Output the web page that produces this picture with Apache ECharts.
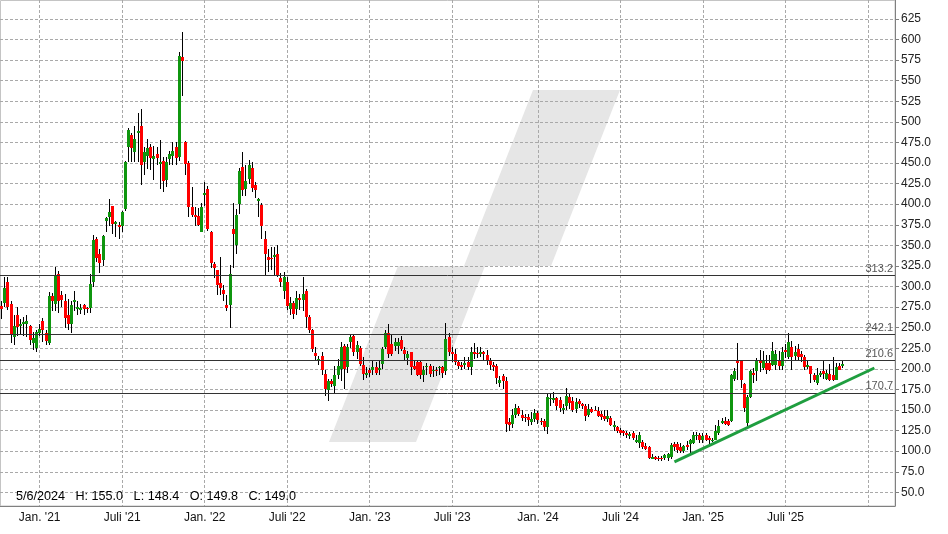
<!DOCTYPE html>
<html><head><meta charset="utf-8">
<script src="https://cdn.jsdelivr.net/npm/echarts@6/dist/echarts.min.js"></script>
<style>html,body{margin:0;padding:0;background:#fff}#c{width:948px;height:534px}</style>
</head><body><div id="c"></div>
<script>
// ---- data (weekly candles) ----
const firstWeek = '2020-10-05';
const weekCount = 282;
const open = [
276,280,305,279,239,265,252,255,254,252,
231,225,244,258,243,231,288,279,315,290,
282,265,254,281,273,272,277,274.5,274,306,
358,339,332,380,385,398,376,375,373,394,
469,484,463,486,495,451,459,469,455,461,
449,452,429,455,459,469,457,579,475,450,
397,387,386,366,411,419,366,327,320,304,
296,277,277,370,351,400,445,419,431,444,
423,404,399,358,336,335,336,339,310,294,
306,273,280,273,286,284,295,263,247,219,
210,215,194,174,185,179,192,200,228,202,
232,240,221,225,205,192,198,198,202,198,
206,227,243,230,228,228,235,223,213,220,
203,208,208,192,202,203,197,199,201,202,
197,239,220,218,208,205,205,208,202,221,
219.5,218,220,217,210,205,204,183,191,185,
135,133,144,153,144,141,141,136,139,146,
137,137,129,164,162,164,162,150,155,166,
161,151,161,157,155,144,151,149.8,149,145,
143,139,140,129,129,126,125,122,119,122,
111,110,111,106,105,91,93,92,92,92,
92,93,109,109,105,100,108,109,110,118,
120,114,120,116,112,114,122,134,137,137,
137,188,209,209,181,134,166,195,197,209,
201,207,207,205,205,209,203,223,214,226,
216,224,218,214,202,203,193,183,193,197,
188,194,193,187,203,203];
const close = [
273,298,275,242,252,251,255,257,258,235,
237,245,248,247,234,288,283,313,283,284,
262,254,277,284,275,274,273,274,303,357,
335,329,361,383,391,376,378,372,391,451,
490,468,479,489,448,463,468,456,459,456,
451,428,451,461,465,456,580,574,449,396,
387,384,375,396,414,370,329,322,302,298,
291,274,315,364,387,440,417,428,448,420,
417,406,373,340,332,333,338,314,306,311,
276,280,267,286,284,291,263,247,224,215,
212,198,175,185,182,193,204,227,200,227,
239,221,229,206,194,195,195,202,195,201,
224,243,218,218,233,233,224,218,218,202,
200,193,192,199,204,194,199,197,202,195,
236,221,218,208,204,202,207,202,221,218,
219,220,218,211,205,202,189,186,185,133,
132,144,153,145,140,140,138,139,146,138,
135,129,166,165,165,155,153,153,167,159,
150,160,157,155,143,151,148,149.0,143,141,
139,143,132,132,125,122,122,120,121,116,
114,120,105,103,92,93,90,90,90,95,
96,108,105,101,100,106,105,114,120,120,
113,119,114,113,114,125,130,137,133,132,
193,197,207,187,152,166,197,193,209,207,
209,198,199,222,218,203,220,220,232,214,
220,214,214,202,205,194,186,192,195,194,
195,186,187,202,199,206];
const low = [
261,275,272,231,229,240,241,240,239,229,
223,221,240,233,229,229,270,270,268,275,
250,247,243,270,265,267,266,268,268,300,
330,316,325,366,374,364,360,358,366,392,
451,451,451,451,423,435,443,441,429,447,
419,415,421,448,447,448,452,532,435,384,
384,374,373,366,398,368,323,310,290,290,
283,270,250,322,340,388,410,410,425,415,
408,384,358,314,318,320,314,312,300,285,
271,265,260,265,271,270,250,244,221,210,
205,193,167,161,178,171,188,185,175,195,
225,216,212,204,187,189,190,193,193,193,
200,224,213,216,222,218,222,210,205,193,
198,191,188,184,193,190,190,191,193,189,
192,216,208,205,200,199,200,199,192,212,
213,214,210,205,198,197,181,178,175,123,
125,128,140,143,137,135,131,132,135,133,
132,124,121,155,158,150,147,145,150,151,
148,146,152,151,137,142,146,148.4,141,138,
137,135,130,125,122,120,118,116,115,113,
110,104,103,102,91,90,89,88,88,89,
88,90,100,98,98,98,102,98,109,114,
110,110,112,109,111,113,120,133,132,131,
136,185,187,177,147,130,165,183,185,196,
198,194,197,203,199,199,199,213,212,199,
210,210,208,199,200,183,184,180,190,188,
186,185,185,186,198,201];
const high = [
282,311,312,283,265,275,261,263,265,253,
245,247,255,262,247,293,292,324,319,295,
291,285,283,294,283,279,279,275,315,362,
360,346,362,384,406,398,380,378,392,453,
492,487,495,511,516,469,479,473,471,469,
478,457,457,465,475,475,585,609,477,453,
421,396,395,401,427,422,368,330,320,336,
302,290,326,402,394,444,463,447,454,451,
427,408,402,368,346,348,348,350,316,318,
312,287,283,295,291,312,297,265,248,226,
216,220,198,188,188,204,212,232,230,230,
241,242,234,228,214,202,201,210,208,210,
226,247,254,242,238,238,240,226,222,221,
210,210,210,203,207,206,203,202,204,204,
256,244,226,224,211,208,214,214,226,231,
226,226,222,223,213,208,206,191,194,190,
140,151,157,155,150,145,145,147,151,149,
140,139,171,171,172,166,166,157,177,171,
166,164,163,159,157,157,154,155,154,149,
150,150,143,137,131,128,126,124,123,124,
120,123,114,110,106,96,94,94,94,97,
98,110,111,111,110,108,112,115,123,123,
122,122,122,118,116,132,138,140,142,139,
194,201,231,210,183,168,199,201,213,223,
222,217,217,232,223,222,226,230,244,234,
228,230,222,217,210,204,195,201,197,209,
199,206,214,207,207,210];
const levels = [313.2, 242.1, 210.6, 170.7];
const trendLine = [[212, 87], [275, 201]];
const yTicks = [50,75,100,125,150,175,200,225,250,275,300,325,350,375,400,425,450,475,500,525,550,575,600,625];
const infoIndex = 187;

// ---- derived ----
const DAY = 864e5;
const t0 = Date.parse(firstWeek + 'T00:00:00Z');
const weeks = [];
for (let i = 0; i < weekCount; i++) weeks.push(new Date(t0 + i * 7 * DAY).toISOString().slice(0, 10));
const lastIndex = open.length - 1;

function halfYear(ws) {
  const t = Date.parse(ws + 'T00:00:00Z');
  for (let k = 0; k < 7; k++) {
    const d = new Date(t + k * DAY);
    if (d.getUTCDate() === 1 && (d.getUTCMonth() === 0 || d.getUTCMonth() === 6)) return { m: d.getUTCMonth(), y: d.getUTCFullYear() };
  }
  return null;
}
const candles = open.map((o, i) => [i, o, close[i], low[i], high[i]]);

function fmtDate(ws) { const d = new Date(ws + 'T00:00:00Z'); return (d.getUTCMonth() + 1) + '/' + d.getUTCDate() + '/' + d.getUTCFullYear(); }
const SEP = '   ';
const infoText = fmtDate(weeks[infoIndex]) + SEP + 'H: ' + high[infoIndex].toFixed(1) + SEP + 'L: ' + low[infoIndex].toFixed(1) +
  SEP + 'O: ' + open[infoIndex].toFixed(1) + SEP + 'C: ' + close[infoIndex].toFixed(1);

const FONT = 'Liberation Sans, Arial, sans-serif';
const GRIDLINE = { color: '#a9a9a9', width: 1, type: [3, 2] };
const watermark = [[329,442],[398,266],[464,266],[533,90],[620,90],[551,266],[485,266],[416,442]];

function renderCandle(params, api) {
  const i = api.value(0), o = api.value(1), c = api.value(2), l = api.value(3), h = api.value(4);
  const pO = api.coord([i, o]), pC = api.coord([i, c]), pL = api.coord([i, l]), pH = api.coord([i, h]);
  const cx = Math.round(pO[0] - 0.5) + 0.5;
  let top = Math.round(Math.min(pO[1], pC[1])), bot = Math.round(Math.max(pO[1], pC[1]));
  if (bot - top < 1) bot = top + 1;
  const up = c > o;
  return { type: 'group', children: [
    { type: 'line', shape: { x1: cx, y1: Math.round(pH[1]), x2: cx, y2: Math.round(pL[1]) }, style: { stroke: '#000', lineWidth: 1 } },
    { type: 'rect', shape: { x: cx - 1.5, y: top, width: 3, height: bot - top }, style: { fill: c === o ? '#000' : (up ? '#0f960f' : '#ff0000') } }
  ]};
}

const chart = echarts.init(document.getElementById('c'), null, { renderer: 'canvas' });
chart.setOption({
  animation: false,
  backgroundColor: '#fff',
  title: { text: infoText, left: 16, top: 490, padding: 0, textStyle: { fontSize: 12.6, fontWeight: 'normal', color: '#000', fontFamily: FONT } },
  graphic: [{ type: 'polygon', z: -10, silent: true, shape: { points: watermark }, style: { fill: '#e6e6e6' } }],
  grid: [
    { left: -1.3, top: 0, width: 896.3, height: 506 },
    { left: 0.5, top: 0.5, width: 894.5, height: 505.5, show: true, borderColor: '#c4c4c4', borderWidth: 1, backgroundColor: 'transparent' }
  ],
  xAxis: [
    { type: 'category', gridIndex: 0, data: weeks, boundaryGap: true,
      axisLine: { show: true, lineStyle: { color: '#808080' } },
      axisTick: { show: false },
      axisLabel: { interval: (idx, v) => idx <= lastIndex && !!halfYear(v),
        formatter: v => { const h = halfYear(v); return h ? (h.m === 0 ? 'Jan. ' : 'Juli ') + "'" + String(h.y).slice(2) : ''; },
        color: '#111', fontSize: 12, fontFamily: FONT, margin: 6 },
      splitLine: { show: true, alignWithLabel: true, interval: (idx, v) => !!halfYear(v), lineStyle: GRIDLINE } },
    { type: 'value', gridIndex: 1, show: false }
  ],
  yAxis: [
    { type: 'value', gridIndex: 0, position: 'right', min: 33.4, max: 648,
      axisLine: { show: true, lineStyle: { color: '#808080' } },
      axisTick: { show: true, length: 4, customValues: yTicks, lineStyle: { color: '#808080' } },
      axisLabel: { customValues: yTicks, formatter: v => v >= 500 ? String(v) : v.toFixed(1), color: '#222', fontSize: 12, fontFamily: FONT, margin: 6 },
      splitLine: { show: true, lineStyle: GRIDLINE } },
    { type: 'value', gridIndex: 1, show: false }
  ],
  series: [
    { type: 'custom', name: 'candles', xAxisIndex: 0, yAxisIndex: 0, data: candles, renderItem: renderCandle,
      encode: { x: 0, y: [1, 2, 3, 4] }, clip: true, z: 2 },
    { type: 'line', name: 'trend', xAxisIndex: 0, yAxisIndex: 0, data: trendLine, symbol: 'none', z: 4,
      lineStyle: { color: '#1f9e3f', width: 3 },
      markLine: { symbol: 'none', silent: true, z: 3,
        lineStyle: { color: '#333', width: 1, type: 'solid' },
        label: { position: 'insideEndTop', formatter: p => p.value.toFixed(1), color: '#555', fontSize: 11, fontFamily: FONT, distance: [2, 1] },
        data: levels.map(v => ({ yAxis: v })) } }
  ]
});
</script></body></html>
